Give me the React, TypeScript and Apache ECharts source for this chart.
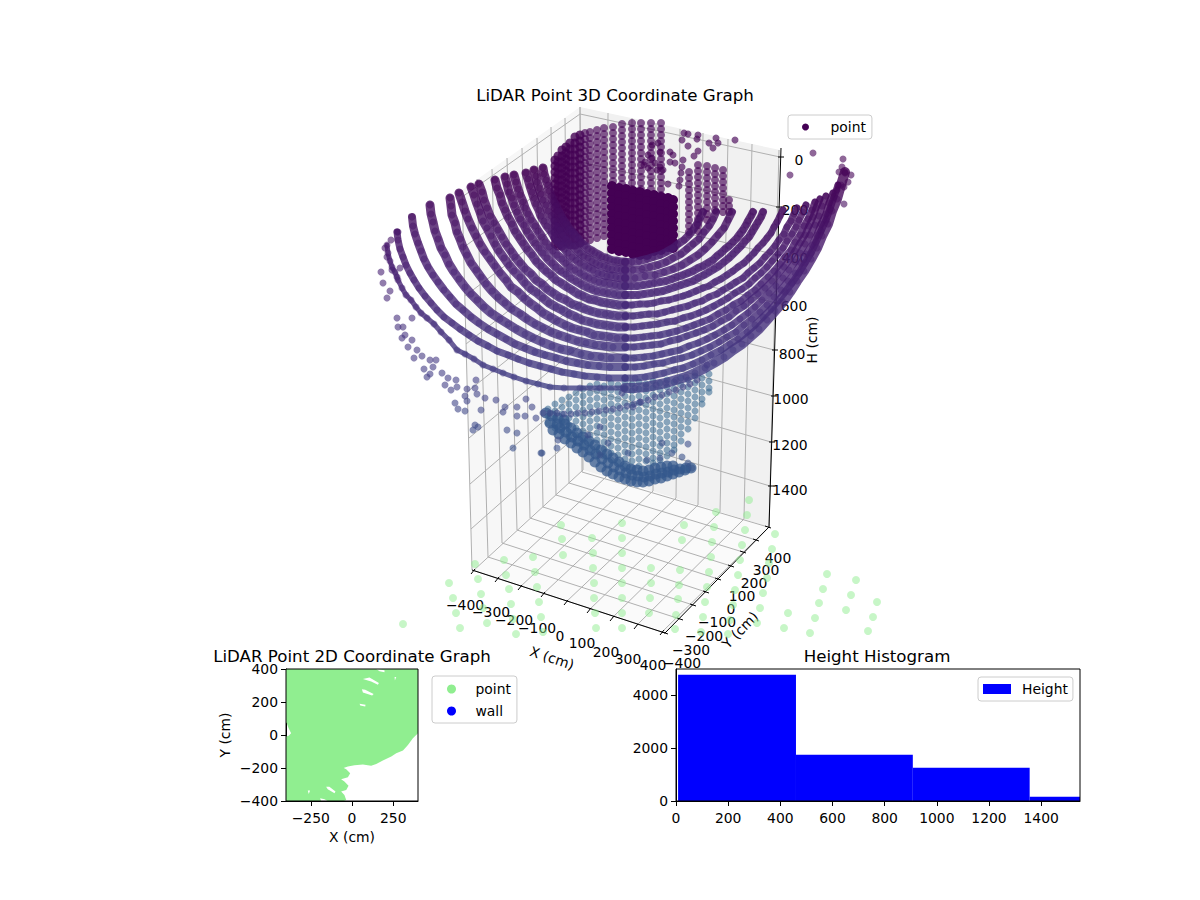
import { useEffect, useRef } from "react";
import * as echarts from "echarts";

const FONT = '"DejaVu Sans"';

// 3D scan rings in page pixels: [xs, ys] per leg
const ring0L = [[543,544,546,548,549,551,553,556,558,561,563,566,569,572,575,578,581,585,588,592,595,599,602,606,610,614,617,621,625],[168,174,180,185,191,196,201,206,211,216,220,224,229,232,236,239,243,246,249,251,253,255,257,258,260,261,261,262,262]];
const ring1L = [[534,536,537,539,541,543,546,548,551,554,557,560,563,566,569,573,577,580,584,588,592,596,600,604,608,612,617,621,625],[170,176,182,188,194,200,205,211,216,221,226,230,235,239,243,246,250,253,256,258,261,263,265,266,268,269,269,270,270]];
const ring2L = [[526,528,530,532,534,536,539,541,544,547,551,554,557,561,565,568,572,576,580,585,589,593,598,602,607,611,616,620,625],[173,179,186,192,198,204,210,216,221,226,231,236,241,245,249,253,257,260,263,266,268,270,273,274,276,276,277,278,278]];
const ring3L = [[514,516,518,520,523,525,528,531,535,538,542,545,549,553,557,562,566,570,575,580,585,589,594,599,604,610,615,620,625],[175,182,189,195,202,208,214,220,226,231,237,242,247,251,255,259,263,267,270,273,276,278,280,282,283,284,285,286,286]];
const ring4L = [[505,507,509,512,514,517,520,524,527,531,535,539,543,547,552,556,561,566,571,576,581,587,592,597,603,608,614,619,625],[177,184,192,198,205,212,219,225,231,237,243,248,253,258,263,267,271,274,278,281,284,287,289,291,292,293,294,295,295]];
const ring5L = [[495,497,500,502,505,508,512,515,519,523,527,532,536,541,546,551,556,561,567,572,578,583,589,595,601,607,613,619,625],[180,188,195,203,210,217,224,231,237,243,249,255,261,266,271,275,280,283,287,290,294,296,299,300,302,303,304,305,305]];
const ring6L = [[479,482,484,487,490,494,498,502,506,511,515,520,525,531,536,542,547,553,559,566,572,578,585,591,598,605,611,618,625],[184,192,200,208,216,223,230,237,244,251,257,263,269,274,280,284,289,293,297,300,304,306,309,311,313,314,315,316,316]];
const ring7L = [[471,474,477,480,483,487,491,495,499,504,509,514,520,525,531,537,543,549,556,562,569,576,582,590,597,604,611,618,625],[187,195,204,212,221,228,236,244,251,258,265,271,277,283,289,293,298,303,307,310,314,317,320,322,324,325,326,327,327]];
const ring8L = [[459,462,465,468,472,476,480,485,490,495,500,506,511,518,524,530,537,543,550,557,565,572,579,587,594,602,610,617,625],[193,202,211,219,228,236,244,252,259,266,273,280,287,292,298,303,308,313,317,321,325,328,330,332,335,336,337,338,338]];
const ring9L = [[450,451,452,455,457,460,463,467,471,476,481,486,492,498,505,512,520,527,535,543,551,559,568,577,586,595,604,613,625],[198,206,215,223,232,239,247,255,263,270,277,284,291,297,303,309,314,319,324,328,332,335,338,341,343,345,346,347,347]];
const ring10L = [[430,431,433,435,438,441,445,449,454,459,465,471,477,484,491,500,508,516,525,533,542,552,561,571,581,591,601,611,625],[205,214,222,231,239,248,255,264,272,279,287,294,300,307,313,319,324,329,334,338,342,346,349,351,354,356,357,358,358]];
const ring11L = [[412,413,415,418,421,424,428,433,438,444,450,456,463,471,479,488,497,506,515,525,535,545,556,566,577,588,599,610,625],[217,226,234,243,251,259,267,275,282,290,297,304,310,317,323,329,334,339,344,348,352,355,358,361,363,365,366,367,367]];
const ring12L = [[397,398,400,403,406,410,414,419,425,431,437,444,452,460,469,478,488,497,508,518,529,540,551,562,574,585,597,609,625],[232,240,249,257,265,273,280,288,296,303,310,317,323,329,335,341,346,351,355,359,363,366,369,372,374,376,377,378,378]];
const ring13L = [[387,388,390,392,395,398,402,406,411,416,421,427,434,441,449,457,465,474,483,493,503,514,526,538,550,564,580,600,625],[245,253,261,267,272,280,288,295,300,307,313,318,324,332,340,350,354,359,365,369,373,377,381,384,387,388,388,388,388]];

const ring0R = [[703,700,697,693,689,684,678,673,666,660,653,647,639,632,625],[212,218,224,230,235,240,244,248,252,255,257,259,261,262,262]];
const ring1R = [[716,713,709,704,699,693,687,681,673,666,658,650,642,633,625],[212,219,226,232,239,244,249,254,258,262,265,267,269,270,270]];
const ring2R = [[732,728,724,718,712,705,698,690,682,673,664,655,645,635,625],[212,220,228,235,242,249,255,260,265,269,272,275,276,278,278]];
const ring3R = [[753,751,748,746,743,740,737,733,729,725,721,717,713,708,703,698,693,688,683,677,672,666,660,654,649,643,637,631,625],[212,216,221,225,230,234,238,242,246,249,253,256,260,263,266,268,271,273,275,277,279,281,282,283,284,285,286,286,286]];
const ring4R = [[763,761,758,755,752,749,745,741,737,733,729,724,719,714,709,704,698,693,687,681,675,669,663,657,651,644,638,632,625],[212,217,222,227,232,237,241,246,250,254,258,262,266,269,272,275,278,281,283,285,287,289,291,292,293,294,295,295,295]];
const ring5R = [[783,780,777,774,771,767,763,758,754,749,744,738,733,727,721,715,709,703,696,689,683,676,669,661,654,647,640,632,625],[210,216,222,227,233,238,243,248,253,258,263,267,271,275,279,282,286,288,291,294,296,298,300,301,303,304,304,305,305]];
const ring6R = [[797,794,791,787,784,779,775,770,765,760,754,748,743,736,730,723,717,709,702,695,688,680,672,665,657,649,641,633,625],[208,214,221,227,234,240,246,252,257,263,268,273,278,282,286,290,294,297,301,303,306,308,310,312,314,314,315,316,316]];
const ring7R = [[806,803,799,796,792,787,783,778,772,767,761,755,749,742,735,728,721,714,706,699,691,683,675,667,658,650,642,634,625],[205,212,220,227,234,241,248,254,261,267,273,278,284,289,293,298,302,306,310,313,316,318,321,322,324,325,326,327,327]];
const ring8R = [[815,812,808,804,800,795,791,785,780,774,768,761,755,748,741,733,726,718,710,702,694,686,677,669,660,651,643,634,625],[202,210,219,226,235,242,250,257,264,271,277,284,290,295,301,305,310,314,319,322,325,328,331,333,335,336,337,338,338]];
const ring9R = [[820,816,813,809,805,800,795,790,784,778,772,765,758,751,744,736,729,721,713,704,696,687,679,670,661,652,643,634,625],[199,208,217,226,235,243,251,259,267,274,281,288,294,300,306,311,317,321,326,330,333,336,339,341,344,345,346,347,347]];
const ring10R = [[826,822,819,815,810,805,800,795,789,783,776,769,762,755,748,740,732,724,715,707,698,689,680,671,662,653,644,634,625],[196,206,216,225,235,244,253,262,270,278,286,293,300,307,313,319,325,330,335,339,343,346,350,352,354,356,357,358,358]];
const ring11R = [[833,829,826,821,817,812,806,801,795,788,781,774,767,760,752,744,736,727,719,710,701,692,682,673,663,654,644,635,625],[193,203,214,224,235,245,254,263,273,281,290,297,305,312,319,325,332,337,342,347,351,355,358,360,363,364,366,367,367]];
const ring12R = [[838,834,830,826,821,816,811,805,799,792,785,778,771,763,755,747,738,730,721,711,702,693,683,674,664,655,645,635,625],[185,197,209,220,231,242,253,263,273,283,292,301,309,317,325,332,339,344,350,355,360,364,368,370,373,375,377,378,378]];
const ring13R = [[845,841,837,832,828,822,817,811,804,797,790,783,775,767,759,751,742,733,724,714,705,695,686,676,666,656,646,635,625],[172,185,199,211,224,236,248,259,271,281,292,302,311,320,329,336,344,350,357,363,368,373,377,380,383,385,387,388,388]];

// outermost, broken-up ring and stray returns
const strayPoints = [[381,272],[383,283],[387,298],[390,291],[397,318],[398,327],[403,327],[402,338],[405,335],[412,318],[412,340],[408,347],[417,350],[414,358],[422,356],[430,360],[436,360],[424,369],[433,367],[430,374],[427,377],[442,373],[448,378],[445,385],[456,380],[451,390],[457,387],[467,389],[476,380],[475,388],[465,396],[467,401],[455,403],[458,409],[465,411],[477,394],[485,398],[481,410],[496,400],[503,412],[505,407],[517,407],[517,416],[525,416],[532,407],[536,418],[543,413],[526,399],[475,425],[478,427],[473,430],[507,430],[517,433],[513,448],[541,453],[558,440],[557,448],[385,248],[391,240],[398,232],[387,257],[392,270],[400,268],[397,277],[813,153],[790,175],[843,159],[839,172],[845,173],[851,175],[842,167],[848,182],[837,190],[844,187],[844,204],[550,413],[557,413],[564,414],[571,414],[578,413],[585,413],[592,412],[599,411],[606,410],[613,409],[620,408],[627,406],[634,404],[641,402],[648,400],[655,397],[662,395],[669,392],[676,390],[683,387],[690,384],[697,380],[707,365],[600,427],[588,435],[608,443],[640,402],[633,407],[662,443],[672,453],[660,458],[647,460],[628,453],[600,455],[682,457],[688,463],[692,468],[688,444],[622,393],[542,453]];

// far-side returns at the top of the room
const backPoints = [[684,133],[688,134],[682,140],[688,146],[698,135],[697,139],[694,156],[698,151],[709,143],[716,138],[718,143],[713,148],[735,140],[645,162],[648,155],[652,158],[655,163],[660,167],[663,170],[657,170],[648,168],[644,165],[658,143],[660,152],[652,145],[670,152],[673,155],[670,162],[675,163],[683,160],[682,167],[681,173],[680,180],[679,186],[668,184]];

// cylinder wall, edge-on part: [x, y, y, ...] per column
const cylinderEdgeColumns = [
  [555,160,166,172,178,184,190,196,202,208,214,220,226,232,238,244],
  [558,156,162,168,174,180,186,192,198,204,210,216,222,228,234,240,246],
  [562,150,156,162,168,174,180,186,192,198,204,210,216,222,228,234,240,246],
  [566,147,153,159,165,171,177,183,189,195,201,207,213,219,225,231,237,243],
  [570,143,149,155,161,167,173,179,185,191,197,203,209,215,221,227,233,239,245],
  [575,137,143,149,155,161,167,173,179,185,191,197,203,209,215,221,227,233,239,245],
  [580,135,141,147,153,159,165,171,177,183,189,195,201,207,213,219,225,231,237,243],
];

// cylinder wall, facing part
const cylinderColumns = [
  [585,133,139,145,151,157,163,169,175,181,187,193,199,205,211,217,223,229,235,241],
  [590,132,138,144,150,156,162,168,174,180,186,192,198,204,210,216,222,228,234,240],
  [597,130,136,142,148,154,160,166,172,178,184,190,196,202,208,214,220,226,232,238],
  [604,128,134,140,146,152,158,164,170,176,182,188,194,200,206,212,218,224,230,236],
  [613,127,133,139,145,151,157,163,169,175,181,187],
  [622,124,130,136,142,148,154,160,166,172,178,184,190],
  [632,123,129,135,141,147,153,159,165,171,177,183,189],
  [641,123,129,135,141,147,153,159,165,171,177,183,189,195],
  [651,123,129,135,141,147,153,159,165,171,177,183,189,195],
  [661,123,129,135,141,147,153,159,165,171,177,183,189,195],
  [689,172,178,184,190,196,202,208,214,220,226,232],
  [698,165,171,177,183,189,195,201,207,213,219,225,231],
  [707,166,172,178,184,190,196,202,208,214,220],
  [715,168,174,180,186,192,198,204,210],
  [723,170,176,182,188,194,200,206,212],
  [729,200,206,212],
];

// solid block near the scanner: [x, y, y, ...] per column
const blockColumns = [
  [612,186,193,200,207,214,221,228,235,242,249],
  [619,188,195,202,209,216,223,230,237,244,251],
  [626,189,196,203,210,217,224,231,238,245,252],
  [633,191,198,205,212,219,226,233,240,247,254],
  [640,192,199,206,213,220,227,234,241,248,255],
  [647,194,201,208,215,222,229,236,243,250,255],
  [654,195,202,209,216,223,230,237,244,251],
  [661,197,204,211,218,225,232,239,246,250],
  [668,198,205,212,219,226,233,240,247],
  [673,200,207,214,221,228,235,242,248],
];

// cone of returns under the scanner: [x, y, y, ...] per column
const coneColumns = [
  [548,409,416,423],
  [555,404,411,418,425,428],
  [562,400,407,414,421,428,432],
  [569,397,404,411,418,425,432,437],
  [576,393,400,407,414,421,428,435,442],
  [583,389,396,403,410,417,424,431,438,445],
  [590,386,393,400,407,414,421,428,435,442,449],
  [597,384,391,398,405,412,419,426,433,440,447,454],
  [604,386,393,400,407,414,421,428,435,442,449,456],
  [611,383,390,397,404,411,418,425,432,439,446,453,460],
  [618,385,392,399,406,413,420,427,434,441,448,455,462],
  [625,382,389,396,403,410,417,424,431,438,445,452,459,466],
  [632,384,391,398,405,412,419,426,433,440,447,454,461,468],
  [639,382,389,396,403,410,417,424,431,438,445,452,459,466],
  [646,384,391,398,405,412,419,426,433,440,447,454,461],
  [653,381,388,395,402,409,416,423,430,437,444,451,458,463],
  [660,383,390,397,404,411,418,425,432,439,446,453,460],
  [667,380,387,394,401,408,415,422,429,436,443,450,456],
  [674,382,389,396,403,410,417,424,431,438,445,450],
  [681,378,385,392,399,406,413,420,427,434,441],
  [688,380,387,394,401,408,415,422,429],
  [695,376,383,390,397,404,411,418],
  [702,378,385,392,399,404],
  [709,374,381,388,392],
];

// dense crescent at the bottom of the cone
const crescentPoints = [[553,430],[559,434],[565,439],[571,443],[577,448],[583,452],[589,457],[595,462],[601,467],[607,471],[613,474],[619,477],[625,479],[631,481],[637,482],[643,482],[649,481],[655,479],[661,478],[667,476],[673,474],[679,472],[685,470],[691,468],[560,428],[566,432],[572,437],[578,441],[584,445],[590,450],[596,454],[602,459],[608,463],[614,467],[620,470],[626,473],[632,475],[638,476],[644,477],[650,476],[656,474],[662,473],[668,472],[674,470],[680,469],[686,468],[565,424],[571,428],[577,433],[583,437],[589,441],[595,445],[601,450],[607,454],[613,458],[619,462],[625,466],[631,469],[637,470],[643,471],[649,470],[655,468],[661,467],[667,466],[673,466],[546,413],[552,416],[558,418],[564,420],[550,423],[557,424]];

// shadow of the points on the floor
const floorPoints = [[561,525],[562,539],[563,555],[592,538],[593,553],[622,523],[622,538],[622,553],[593,568],[622,568],[594,583],[622,583],[594,598],[622,598],[595,613],[622,613],[596,628],[622,628],[533,557],[504,560],[475,564],[535,572],[506,575],[478,579],[537,587],[509,589],[449,583],[481,594],[453,598],[539,602],[511,604],[483,608],[456,613],[541,617],[513,619],[487,623],[403,624],[460,628],[543,632],[516,634],[489,637],[749,500],[747,515],[745,530],[742,545],[740,560],[738,575],[735,590],[733,605],[730,620],[728,634],[716,512],[714,527],[712,542],[711,557],[709,572],[707,587],[705,602],[703,617],[701,632],[684,525],[682,540],[651,568],[680,570],[651,583],[679,585],[650,598],[678,599],[649,613],[676,615],[675,629],[775,534],[772,549],[769,563],[767,578],[763,593],[760,608],[757,623],[754,637],[788,613],[784,628],[827,574],[823,589],[819,603],[815,618],[810,633],[856,580],[851,595],[846,610],[873,617],[868,631],[877,602]];

// 3D box, page pixels
const leftWall = [[462,190],[580,107],[583,470],[472,570]];
const rightWall = [[580,107],[780,150],[769,527],[583,470]];
const floorPane = [[472,570],[583,470],[769,527],[665,633]];
const xFront = [[473,571],[497,579],[520,587],[543,594],[566,602],[589,610],[612,618],[636,626],[662,632]];
const xBack = [[583,470],[606,477],[630,484],[653,491],[676,498],[698,505],[720,512],[744,519],[769,527]];
const xTop = [[580,107],[608,113],[632,118],[656,123],[680,129],[703,133],[728,139],[752,144],[779,150]];
const yFront = [[665,633],[680,619],[693,605],[706,592],[718,579],[731,566],[743,552],[756,540],[768,527]];
const yBack = [[472,570],[488,557],[502,543],[517,530],[530,518],[543,507],[556,495],[569,483],[582,472]];
const yTop = [[462,190],[477,179],[492,169],[507,158],[522,148],[537,138],[551,127],[565,118],[580,107]];
const hRight = [[780,157],[778,207],[777,255],[776,303],[774,350],[773,396],[771,442],[770,486]];
const hBack = [[580,114],[581,162],[581,208],[581,254],[582,300],[582,344],[582,388],[583,430]];
const hLeft = [[462,197],[464,247],[465,296],[466,344],[467,392],[469,438],[470,484],[471,529]];

const xTickLabels = ["−400","−300","−200","−100","0","100","200","300","400"];
const xLabelSpots = [[465,605],[491,612],[514,620],[537,628],[560,636],[582,643],[606,652],[628,659],[653,665]];
const yTickLabels = ["400","300","200","100","0","−100","−200","−300","−400"];
const yLabelSpots = [[778,558],[766,570],[754,583],[742,596],[731,609],[717,622],[704,636],[691,650],[682,663]];
const hTickLabels = ["0","200","400","600","800","1000","1200","1400"];
const hLabelSpots = [[799,160],[795,210],[795,258],[794,306],[792,354],[791,399],[790,445],[790,490]];

// 2D plot: outline of the covered area and the gaps in it, cm
const coverageOutline = [[-400,400],[400,400],[400,11],[369,-19],[339,-60],[309,-94],[268,-110],[238,-131],[187,-155],[147,-175],[116,-187],[66,-179],[15,-183],[-25,-191],[-56,-201],[-76,-187],[-35,-207],[-11,-232],[-25,-256],[-66,-268],[-46,-282],[-21,-307],[-35,-333],[-66,-343],[-46,-363],[-35,-394],[-51,-400],[-400,-400],[-400,-9],[-384,-5],[-369,11],[-384,41],[-396,72],[-400,76]];
const coverageGaps = [
  [[66,339],[106,349],[163,315],[157,305],[116,325]],
  [[60,278],[80,274],[131,248],[122,240],[66,258]],
  [[46,189],[82,183],[80,173],[50,179]],
  [[147,400],[197,392],[197,380],[167,386]],
  [[258,351],[268,351],[260,331]],
  [[-157,-313],[-137,-313],[-100,-343],[-106,-353],[-147,-329]],
  [[-268,-337],[-254,-337],[-262,-357]],
  [[-193,-384],[-167,-390],[-147,-400],[-187,-400]],
];

// histogram
const binEdges = [8, 460, 908, 1356, 1805];
const binCounts = [4767, 1748, 1258, 164];

const ringLegs = [ring0L,ring1L,ring2L,ring3L,ring4L,ring5L,ring6L,ring7L,ring8L,ring9L,ring10L,ring11L,ring12L,ring13L,ring0R,ring1R,ring2R,ring3R,ring4R,ring5R,ring6R,ring7R,ring8R,ring9R,ring10R,ring11R,ring12R,ring13R];
const legBandWidths = [9,9,9,9,9,9,9,9,9,9,9,8,7,5,8,8,8,8,8,7,7,7,7,7,7,7,7,10];
const legPoints = ([xs, ys]: number[][]) => xs.map((x, i) => [x, ys[i]]);
const fromColumns = (cols: number[][]) => cols.flatMap((c) => c.slice(1).map((y) => [c[0], y]));

const pair = (a: number[][], b: number[][]) => a.map((p, i) => [p[0], p[1], b[i][0], b[i][1]]);
const gridSegments = [...pair(xFront, xBack), ...pair(xBack, xTop), ...pair(yFront, yBack), ...pair(yBack, yTop), ...pair(hRight, hBack), ...pair(hBack, hLeft)];
const axisSegments = [
  [472,570,665,633],
  [665,633,769,527],
  [781,148,769,527],
  ...xFront.map(([x, y]) => [x + 2, y - 2, x - 2, y + 3]),
  ...yFront.map(([x, y]) => [x - 3, y - 1, x + 3, y + 1]),
  ...hRight.map(([x, y]) => [x - 2, y, x + 4, y]),
];

const label = (text: string, [x, y]: number[], rotation = 0) => ({
  type: "text",
  x,
  y,
  rotation,
  silent: true,
  style: { text, fill: "#000", font: `13.9px ${FONT}`, textAlign: "center", textVerticalAlign: "middle" },
});
const frame = (x: number, y: number, width: number, height: number) => ({
  type: "rect",
  z: 100,
  silent: true,
  shape: { x, y, width, height },
  style: { fill: "none", stroke: "#000", lineWidth: 1 },
});
const minus = (v: number) => String(v).replace("-", "−");

const sceneSeries = { coordinateSystem: "cartesian2d", xAxisIndex: 0, yAxisIndex: 0, silent: true };
const pointSeries = (data: number[][], color: string | undefined, opacity: number, symbolSize = 7) => ({
  ...sceneSeries,
  type: "scatter",
  name: "point",
  data,
  symbolSize,
  itemStyle: color ? { color, opacity } : { opacity },
});

const App = () => {
  const chartRef = useRef<HTMLDivElement>(null);

  useEffect(() => {
    if (!chartRef.current) return;
    const chart = echarts.init(chartRef.current, null, { renderer: "svg" });

    const textStyle = { color: "#000", fontFamily: FONT, fontSize: 13.9 };
    const titleStyle = { color: "#000", fontFamily: FONT, fontSize: 16.67, fontWeight: "normal" };
    const legendBase = {
      orient: "vertical",
      selectedMode: false,
      backgroundColor: "#fff",
      borderColor: "#ccc",
      borderWidth: 1,
      borderRadius: 3,
    };
    const axisBits = {
      axisLine: { onZero: false, lineStyle: { color: "#000", width: 1 } },
      axisTick: { length: 5, lineStyle: { color: "#000", width: 1 } },
      splitLine: { show: false },
      nameTextStyle: textStyle,
      nameLocation: "middle",
    };
    const sceneBack = [
      // panes of the box
      {
        ...sceneSeries,
        type: "custom",
        data: [[0], [1], [2]],
        renderItem: (params: any, api: any) => ({
          type: "polygon",
          shape: { points: [leftWall, rightWall, floorPane][params.dataIndex].map((p) => api.coord(p)) },
          style: { fill: ["#f7f7f7", "#f1f1f1", "#fafafa"][params.dataIndex] },
        }),
      },
      // grid on the panes
      {
        ...sceneSeries,
        type: "custom",
        data: gridSegments,
        renderItem: (_: any, api: any) => {
          const a = api.coord([api.value(0), api.value(1)]);
          const b = api.coord([api.value(2), api.value(3)]);
          return {
            type: "line",
            shape: { x1: a[0], y1: a[1], x2: b[0], y2: b[1] },
            style: { stroke: "#b0b0b0", lineWidth: 1 },
          };
        },
      },
      // axis lines and ticks
      {
        ...sceneSeries,
        type: "custom",
        data: axisSegments,
        renderItem: (_: any, api: any) => {
          const a = api.coord([api.value(0), api.value(1)]);
          const b = api.coord([api.value(2), api.value(3)]);
          return {
            type: "line",
            shape: { x1: a[0], y1: a[1], x2: b[0], y2: b[1] },
            style: { stroke: "#000", lineWidth: 1 },
          };
        },
      },
      { ...pointSeries(floorPoints, "#90ee90", 0.5, 8), clip: true },
      pointSeries(backPoints, "#440154", 0.65),
      pointSeries(fromColumns(cylinderEdgeColumns), "#440154", 0.8, 9),
      pointSeries(fromColumns(cylinderColumns), "#440154", 0.65, 8),
      pointSeries(fromColumns(blockColumns), "#440154", 1, 10),
      pointSeries(fromColumns(coneColumns), "#31648e", 0.55),
      pointSeries(crescentPoints, "#34588c", 0.75, 11),
    ];
    // rings: dots over a band of the same colour, coloured by depth through the visualMap
    const ringSeries = ringLegs.map((leg, i) => ({
      ...sceneSeries,
      type: "line",
      name: "point",
      data: legPoints(leg),
      symbol: "circle",
      symbolSize: 7,
      itemStyle: { opacity: 0.5 },
      lineStyle: { width: legBandWidths[i], opacity: 0.8, cap: "round" },
    }));
    const strayIndex = sceneBack.length + ringSeries.length;

    chart.setOption({
      animation: false,
      backgroundColor: "#fff",
      title: [
        { text: "LiDAR Point 3D Coordinate Graph", left: 615, top: 87, textAlign: "center", textStyle: titleStyle, padding: 0 },
        { text: "LiDAR Point 2D Coordinate Graph", left: 352, top: 648, textAlign: "center", textStyle: titleStyle, padding: 0 },
        { text: "Height Histogram", left: 877, top: 648, textAlign: "center", textStyle: titleStyle, padding: 0 },
      ],
      grid: [
        { left: 0, top: 0, width: 878, height: 635 },
        { left: 286, top: 669, width: 132, height: 132 },
        { left: 676, top: 669, width: 404, height: 132 },
      ],
      xAxis: [
        { type: "value", gridIndex: 0, min: 0, max: 878, show: false },
        {
          ...axisBits,
          type: "value",
          gridIndex: 1,
          min: -400,
          max: 400,
          name: "X (cm)",
          nameGap: 29,
          axisTick: { ...axisBits.axisTick, customValues: [-250, 0, 250] },
          axisLabel: { ...textStyle, margin: 10, customValues: [-250, 0, 250], formatter: minus },
        },
        {
          ...axisBits,
          type: "value",
          gridIndex: 2,
          min: 0,
          max: 1549,
          axisTick: { ...axisBits.axisTick, customValues: [0, 200, 400, 600, 800, 1000, 1200, 1400] },
          axisLabel: { ...textStyle, margin: 10, customValues: [0, 200, 400, 600, 800, 1000, 1200, 1400], formatter: minus },
        },
      ],
      yAxis: [
        { type: "value", gridIndex: 0, min: 0, max: 635, inverse: true, show: false },
        {
          ...axisBits,
          type: "value",
          gridIndex: 1,
          min: -400,
          max: 400,
          interval: 200,
          name: "Y (cm)",
          nameGap: 54,
          axisLabel: { ...textStyle, margin: 8, formatter: minus },
        },
        {
          ...axisBits,
          type: "value",
          gridIndex: 2,
          min: 0,
          max: 4980,
          axisTick: { ...axisBits.axisTick, customValues: [0, 2000, 4000] },
          axisLabel: { ...textStyle, margin: 8, customValues: [0, 2000, 4000], formatter: minus },
        },
      ],
      legend: [
        {
          ...legendBase,
          left: 788,
          top: 115,
          padding: [5, 6, 5, 14],
          itemWidth: 24,
          itemHeight: 7,
          textStyle: { ...textStyle, padding: [0, 0, 0, 8] },
          data: [{ name: "point", icon: "circle", itemStyle: { color: "#440154", opacity: 1 } }],
        },
        {
          ...legendBase,
          left: 432,
          top: 676,
          padding: [6, 6, 5, 15],
          itemWidth: 24,
          itemHeight: 9,
          itemGap: 8,
          textStyle: { ...textStyle, padding: [0, 0, 0, 7] },
          data: [
            { name: "point", icon: "circle", itemStyle: { color: "#90ee90", opacity: 1 } },
            { name: "wall", icon: "circle", itemStyle: { color: "#0000ff", opacity: 1 } },
          ],
        },
        {
          ...legendBase,
          left: 978,
          top: 677,
          padding: [5, 5, 5, 5],
          itemWidth: 28,
          itemHeight: 10,
          textStyle: { ...textStyle, padding: [0, 0, 0, 6] },
          data: [{ name: "Height", icon: "rect", itemStyle: { color: "#0000ff", opacity: 1 } }],
        },
      ],
      visualMap: {
        show: false,
        type: "continuous",
        dimension: 1,
        seriesIndex: [...ringSeries.map((_, i) => sceneBack.length + i), strayIndex],
        min: 170,
        max: 480,
        inRange: { color: ["#440154", "#482173", "#433e85", "#38588c"] },
      },
      graphic: {
        elements: [
          ...xTickLabels.map((t, i) => label(t, xLabelSpots[i])),
          ...yTickLabels.map((t, i) => label(t, yLabelSpots[i])),
          ...hTickLabels.map((t, i) => label(t, hLabelSpots[i])),
          label("X (cm)", [552, 658], -0.32),
          label("Y (cm)", [740, 630], 0.8),
          label("H (cm)", [812, 340], Math.PI / 2),
          frame(286, 669, 132, 132),
          frame(676, 669, 404, 132),
        ],
      },
      series: [
        ...sceneBack,
        ...ringSeries,
        pointSeries(strayPoints, undefined, 0.6),
        // 2D plot
        {
          type: "custom",
          name: "point",
          coordinateSystem: "cartesian2d",
          xAxisIndex: 1,
          yAxisIndex: 1,
          clip: true,
          silent: true,
          data: [[0, 0]],
          renderItem: (_: any, api: any) => ({
            type: "group",
            children: [
              {
                type: "polygon",
                shape: { points: coverageOutline.map((p) => api.coord(p)) },
                style: { fill: "#90ee90" },
              },
              ...coverageGaps.map((gap) => ({
                type: "polygon",
                shape: { points: gap.map((p) => api.coord(p)) },
                style: { fill: "#fff" },
              })),
            ],
          }),
        },
        { type: "scatter", name: "wall", xAxisIndex: 1, yAxisIndex: 1, data: [], itemStyle: { color: "#0000ff" } },
        // histogram
        {
          type: "custom",
          name: "Height",
          coordinateSystem: "cartesian2d",
          xAxisIndex: 2,
          yAxisIndex: 2,
          clip: true,
          silent: true,
          data: binCounts.map((count, i) => [binEdges[i], binEdges[i + 1], count]),
          renderItem: (_: any, api: any) => {
            const a = api.coord([api.value(0), api.value(2)]);
            const b = api.coord([api.value(1), 0]);
            return {
              type: "rect",
              shape: { x: a[0], y: a[1], width: b[0] - a[0], height: b[1] - a[1] },
              style: { fill: "#0000ff" },
            };
          },
        },
      ],
    });

    return () => {
      chart.dispose();
    };
  }, []);

  return <div ref={chartRef} style={{ position: "absolute", left: 0, top: 0, width: 1200, height: 900 }} />;
};

export default App;
